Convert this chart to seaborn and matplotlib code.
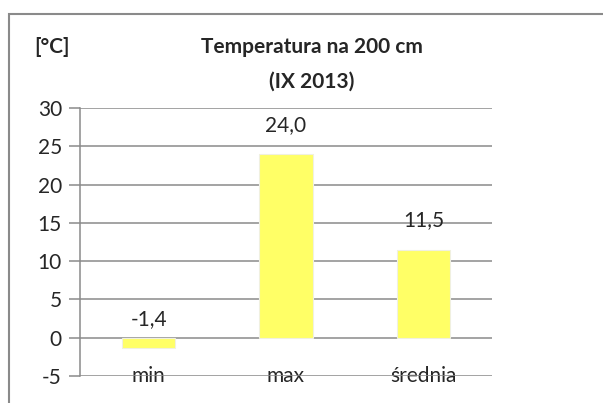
import matplotlib
matplotlib.use("Agg")
import matplotlib.pyplot as plt
import seaborn as sns
import pandas as pd
from matplotlib.patches import Rectangle

# dane
kategorie = ["min", "max", "średnia"]
wartosci = [-1.4, 24.0, 11.5]
etykiety = ["-1,4", "24,0", "11,5"]
y_ticks = [-5, 0, 5, 10, 15, 20, 25, 30]

df = pd.DataFrame({"kat": kategorie, "val": wartosci})

sns.set_style("white")
plt.rcParams["font.family"] = ["Lato", "DejaVu Sans"]

fig = plt.figure(figsize=(6.03, 4.03), dpi=100)
ax = fig.add_axes([80 / 603, 1 - 376 / 403, 412 / 603, 268 / 403])

# ramka wykresu
fig.patches.append(Rectangle((9 / 603, -0.1), 1.2, 1 - 14 / 403 + 0.1, transform=fig.transFigure,
                             fill=False, edgecolor="#8a8a8a", linewidth=1.5, clip_on=False))

sns.barplot(data=df, x="kat", y="val", color="#ffff66", saturation=1, width=0.39,
            edgecolor="#f0f0e0", linewidth=0.8, ax=ax, zorder=3)

ax.set_ylim(-5, 30)
ax.set_yticks(y_ticks)
ax.set_yticklabels([str(t) for t in y_ticks], fontsize=15)
ax.yaxis.grid(True, color="#8a8a8a", linewidth=1.1)
ax.set_axisbelow(True)
for s in ["top", "right", "bottom"]:
    ax.spines[s].set_visible(False)
ax.spines["left"].set_color("#8a8a8a")
ax.spines["left"].set_linewidth(1.1)
ax.tick_params(axis="y", left=True, length=8, width=1.1, color="#8a8a8a", pad=5)
ax.tick_params(axis="x", bottom=False, labelsize=15, pad=-11)
ax.set_xlabel("")
ax.set_ylabel("")
ax.set_xlim(-0.5, 2.5)

for i, (v, t) in enumerate(zip(wartosci, etykiety)):
    ax.annotate(t, (i, v), xytext=(0, 21), textcoords="offset points",
                ha="center", va="center", fontsize=15)

fig.text(312 / 603, 1 - 47 / 403, "Temperatura na 200 cm", ha="center", va="center",
         fontsize=15, fontweight="bold")
fig.text(312 / 603, 1 - 82 / 403, "(IX 2013)", ha="center", va="center",
         fontsize=15, fontweight="bold")
fig.text(34 / 603, 1 - 47 / 403, "[°C]", ha="left", va="center", fontsize=15, fontweight="bold")

fig.savefig("out.png", dpi=100)
